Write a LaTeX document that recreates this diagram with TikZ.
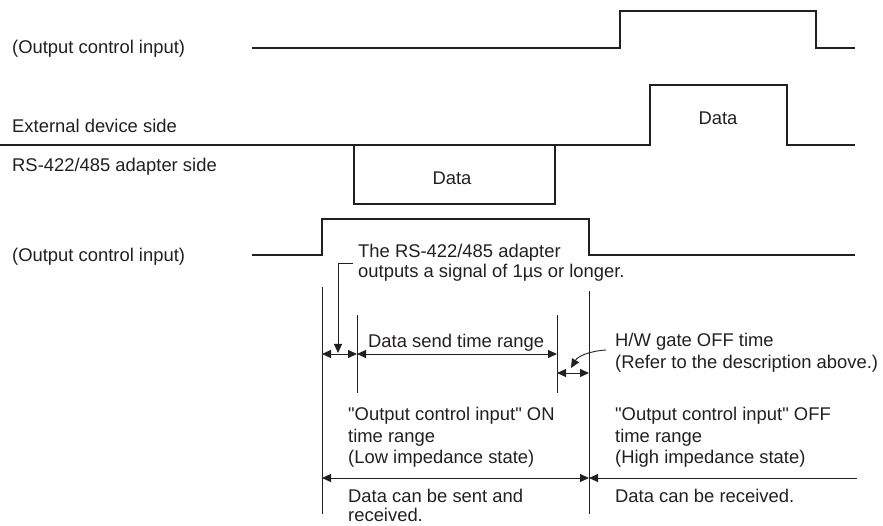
\documentclass[tikz,border=0pt]{standalone}
\usepackage{fontspec}
\setmainfont{Liberation Sans}[Ligatures=TeXOff]
\usetikzlibrary{arrows.meta}
\definecolor{ink}{HTML}{231F20}
\tikzset{
  sig/.style={draw=ink, line width=1.9pt, line join=miter},
  dimline/.style={draw=ink, line width=0.9pt},
  tip/.tip={Triangle[length=9pt,width=8pt]},
  dimarr/.style={dimline, {tip}-{tip}},
  onearr/.style={dimline, -{tip}},
  lbl/.style={anchor=base west, inner sep=0pt, text=ink, font=\fontsize{18.4}{22}\selectfont},
  ctr/.style={anchor=base, inner sep=0pt, text=ink, font=\fontsize{18.4}{22}\selectfont}
}
\begin{document}
\begin{tikzpicture}[x=1pt,y=-1pt]
\useasboundingbox (0,0) rectangle (883,526);

% ---- left labels
\node[lbl] (l1) at (12,54) {(Output control input)};
\node[lbl] (l2) at (12,133) {External device side};
\node[lbl] (l3) at (12,172) {RS-422/485 adapter side};
\node[lbl] (l4) at (12,262) {(Output control input)};

% ---- top output control input signal
\coordinate (a0) at (252,48);
\coordinate (a1) at (620,48);
\coordinate (a2) at (620,11);
\coordinate (a3) at (816,11);
\coordinate (a4) at (816,48);
\coordinate (a5) at (855,48);
\draw[sig] (a0) -- (a1) -- (a2) -- (a3) -- (a4) -- (a5);

% ---- external device / adapter data line
\coordinate (b0) at (0,145);
\coordinate (b1) at (650,145);
\coordinate (b2) at (650,85);
\coordinate (b3) at (787,85);
\coordinate (b4) at (787,145);
\coordinate (b5) at (855,145);
\draw[sig] (b0) -- (b1) -- (b2) -- (b3) -- (b4) -- (b5);
\node[ctr] (dtop) at (718,125) {Data};

\coordinate (c0) at (354,145);
\coordinate (c1) at (354,204);
\coordinate (c2) at (555,204);
\coordinate (c3) at (555,145);
\draw[sig] (c0) -- (c1) -- (c2) -- (c3);
\node[ctr] (dbot) at (452,185) {Data};

% ---- bottom output control input signal
\coordinate (d0) at (252,255);
\coordinate (d1) at (322,255);
\coordinate (d2) at (322,219);
\coordinate (d3) at (589,219);
\coordinate (d4) at (589,255);
\coordinate (d5) at (855,255);
\draw[sig] (d0) -- (d1) -- (d2) -- (d3) -- (d4) -- (d5);

% ---- annotation texts
\node[lbl] (t1a) at (358,258) {The RS-422/485 adapter};
\node[lbl] (t1b) at (358,278) {outputs a signal of 1µs or longer.};
\node[lbl] (tds) at (368,348) {Data send time range};
\node[lbl] (hw1) at (615,347) {H/W gate OFF time};
\node[lbl] (hw2) at (615,368) {(Refer to the description above.)};
\node[lbl] (on1) at (348,420) {"Output control input" ON};
\node[lbl] (on2) at (348,442) {time range};
\node[lbl] (on3) at (348,463) {(Low impedance state)};
\node[lbl] (of1) at (615,420) {"Output control input" OFF};
\node[lbl] (of2) at (615,442) {time range};
\node[lbl] (of3) at (615,463) {(High impedance state)};
\node[lbl] (sr1) at (348,502) {Data can be sent and};
\node[lbl] (sr2) at (348,521) {received.};
\node[lbl] (rc1) at (615,502) {Data can be received.};

% ---- extension lines
\coordinate (vA0) at (322,287); \coordinate (vA1) at (322,514);
\coordinate (vB0) at (357,315); \coordinate (vB1) at (357,393);
\coordinate (vC0) at (557,315); \coordinate (vC1) at (557,393);
\coordinate (vD0) at (589,291); \coordinate (vD1) at (589,514);
\draw[dimline] (vA0) -- (vA1);
\draw[dimline] (vB0) -- (vB1);
\draw[dimline] (vC0) -- (vC1);
\draw[dimline] (vD0) -- (vD1);

% ---- dimension arrows
\coordinate (p1) at (322,354); \coordinate (p2) at (357,354);
\coordinate (p3) at (557,354);
\draw[dimarr] (p1) -- (p2);
\draw[dimarr] (p2) -- (p3);
\coordinate (q1) at (557,373); \coordinate (q2) at (589,373);
\draw[dimarr] (q1) -- (q2);
\coordinate (r1) at (322,478); \coordinate (r2) at (589,478);
\coordinate (r3) at (857,478);
\draw[dimarr] (r1) -- (r2);
\draw[onearr] (r3) -- (r2);

% ---- leaders
\coordinate (m0) at (353,263);
\coordinate (m1) at (338,263);
\coordinate (m2) at (338,353);
\draw[onearr] (m0) -- (m1) -- (m2);
\coordinate (h0) at (606,350);
\coordinate (h1) at (571,368);
\draw[onearr] (h0) .. controls (590,351) and (578,356) .. (h1);
\end{tikzpicture}
\end{document}
